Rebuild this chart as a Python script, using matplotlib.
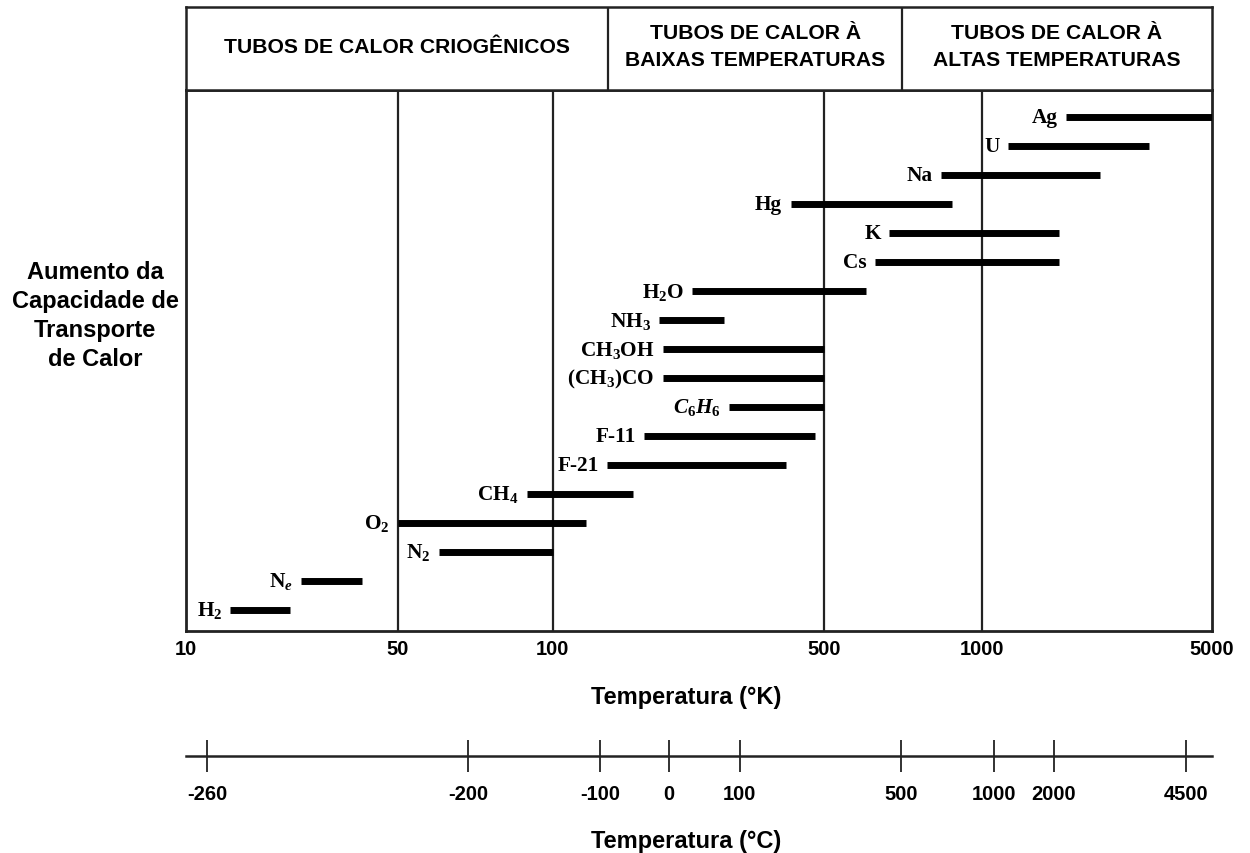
"""Faixas de temperatura de operação dos fluidos de trabalho em tubos de calor."""
import matplotlib
matplotlib.use('Agg')
import matplotlib.pyplot as plt
import numpy as np

plt.rcParams['mathtext.fontset'] = 'custom'
plt.rcParams['mathtext.rm'] = 'Liberation Serif:bold'
plt.rcParams['mathtext.bf'] = 'Liberation Serif:bold'
plt.rcParams['mathtext.it'] = 'Liberation Serif:italic:bold'

# ---------------------------------------------------------------------
# Dados - de baixo para cima
# ---------------------------------------------------------------------
fluidos = [r'H$_2$', r'N$_e$', r'N$_2$', r'O$_2$', r'CH$_4$', 'F-21', 'F-11',
           r'$C_6H_6$', r'(CH$_3$)CO', r'CH$_3$OH', r'NH$_3$', r'H$_2$O',
           'Cs', 'K', 'Hg', 'Na', 'U', 'Ag']
t_min = [14, 24, 60, 50, 89, 138, 172, 284, 192, 192, 188, 229,
         626, 665, 410, 834, 1200, 1800]
t_max = [22, 38, 100, 122, 161, 400, 474, 500, 500, 500, 276, 600,
         1714, 1714, 877, 2284, 3217, 5000]

k_ticks = [10, 50, 100, 500, 1000, 5000]
c_ticks = [-260, -200, -100, 0, 100, 500, 1000, 2000, 4500]
# posição (fração do eixo) de cada marca em °C, como desenhada no original
c_pos = [0.0205, 0.2749, 0.4035, 0.4708, 0.5395, 0.6969, 0.7875, 0.846, 0.9747]

regioes = ['TUBOS DE CALOR CRIOGÊNICOS',
           'TUBOS DE CALOR À\nBAIXAS TEMPERATURAS',
           'TUBOS DE CALOR À\nALTAS TEMPERATURAS']
limites_regioes = [10, 139, 704, 5000]

# ---------------------------------------------------------------------
# Escala do eixo em K: log por trechos, como no desenho original
# ---------------------------------------------------------------------
KNOT_K = np.log10([10, 50, 100, 500, 1000, 5000])
KNOT_X = np.array([0, 212, 366.6, 638, 796, 1026])


def _fwd(t):
    lt = np.log10(np.maximum(np.asarray(t, float), 1e-6))
    out = np.interp(lt, KNOT_K, KNOT_X)
    s0 = (KNOT_X[1] - KNOT_X[0]) / (KNOT_K[1] - KNOT_K[0])
    s1 = (KNOT_X[-1] - KNOT_X[-2]) / (KNOT_K[-1] - KNOT_K[-2])
    out = np.where(lt < KNOT_K[0], KNOT_X[0] + (lt - KNOT_K[0]) * s0, out)
    out = np.where(lt > KNOT_K[-1], KNOT_X[-1] + (lt - KNOT_K[-1]) * s1, out)
    return out


def _inv(x):
    x = np.asarray(x, float)
    out = np.interp(x, KNOT_X, KNOT_K)
    s0 = (KNOT_K[1] - KNOT_K[0]) / (KNOT_X[1] - KNOT_X[0])
    s1 = (KNOT_K[-1] - KNOT_K[-2]) / (KNOT_X[-1] - KNOT_X[-2])
    out = np.where(x < KNOT_X[0], KNOT_K[0] + (x - KNOT_X[0]) * s0, out)
    out = np.where(x > KNOT_X[-1], KNOT_K[-1] + (x - KNOT_X[-1]) * s1, out)
    return 10 ** out


SANS = 'Liberation Sans'
SERIF = 'Liberation Serif'
C_LINE = '#222222'

fig = plt.figure(figsize=(12.5, 8.54), dpi=100)
L, W = 186 / 1250, 1026 / 1250

# ---------------------------------------------------------------------
# Gráfico principal
# ---------------------------------------------------------------------
ax = fig.add_axes([L, (854 - 632) / 854, W, 541 / 854])
ax.set_xscale('function', functions=(_fwd, _inv))
ax.set_xlim(10, 5000)
ax.set_ylim(-0.74, 17.95)

for v in k_ticks[1:-1]:
    ax.axvline(v, color=C_LINE, lw=1.6, zorder=1)

y = np.arange(len(fluidos))
ax.hlines(y, t_min, t_max, colors='black', linewidth=5, zorder=3)
for yi, nome, t0 in zip(y, fluidos, t_min):
    ax.annotate(nome, (t0, yi), xytext=(-6, 0), textcoords='offset points',
                ha='right', va='center', fontsize=15.3, fontweight='bold',
                family=SERIF, zorder=4)

ax.set_xticks(k_ticks)
ax.set_xticklabels([str(v) for v in k_ticks], fontsize=14.5,
                   fontweight='bold', family=SANS)
ax.xaxis.set_minor_locator(matplotlib.ticker.NullLocator())
ax.tick_params(axis='x', length=0, pad=6)
ax.set_yticks([])
for sp in ax.spines.values():
    sp.set_linewidth(2)
    sp.set_color(C_LINE)

fig.text(0.549, (854 - 698) / 854, 'Temperatura (°K)', ha='center', va='center',
         fontsize=17, fontweight='bold', family=SANS)
fig.text(95 / 1250, (854 - 316) / 854,
         'Aumento da\nCapacidade de\nTransporte\nde Calor', ha='center',
         va='center', fontsize=17, fontweight='bold', family=SANS,
         linespacing=1.32)

# ---------------------------------------------------------------------
# Cabeçalho com as faixas de aplicação
# ---------------------------------------------------------------------
axh = fig.add_axes([L, (854 - 91) / 854, W, 83 / 854])
axh.set_xscale('function', functions=(_fwd, _inv))
axh.set_xlim(10, 5000)
axh.set_ylim(0, 1)
axh.set_xticks([])
axh.xaxis.set_minor_locator(matplotlib.ticker.NullLocator())
axh.set_yticks([])
for sp in axh.spines.values():
    sp.set_linewidth(1.8)
    sp.set_color(C_LINE)
for v in limites_regioes[1:-1]:
    axh.axvline(v, color=C_LINE, lw=1.6)
for txt, a, b in zip(regioes, limites_regioes[:-1], limites_regioes[1:]):
    xm = _inv((_fwd(a) + _fwd(b)) / 2)
    axh.text(xm, 0.53, txt, ha='center', va='center', fontsize=15.2,
             fontweight='bold', family=SANS, linespacing=1.5)

# ---------------------------------------------------------------------
# Eixo em °C
# ---------------------------------------------------------------------
axc = fig.add_axes([L, (854 - 757) / 854, W, 0.0001])
axc.set_xlim(0, 1)
axc.set_yticks([])
for s in ['top', 'left', 'right']:
    axc.spines[s].set_visible(False)
axc.spines['bottom'].set_linewidth(1.8)
axc.spines['bottom'].set_color(C_LINE)
axc.set_xticks(c_pos)
axc.set_xticklabels([str(v) for v in c_ticks], fontsize=14.5,
                    fontweight='bold', family=SANS)
axc.tick_params(axis='x', direction='inout', length=23, width=1.3,
                color=C_LINE, pad=9)
axc.patch.set_visible(False)

fig.text(0.549, (854 - 842) / 854, 'Temperatura (°C)', ha='center', va='center',
         fontsize=17, fontweight='bold', family=SANS)

fig.savefig('out.png', dpi=100, facecolor='white')
